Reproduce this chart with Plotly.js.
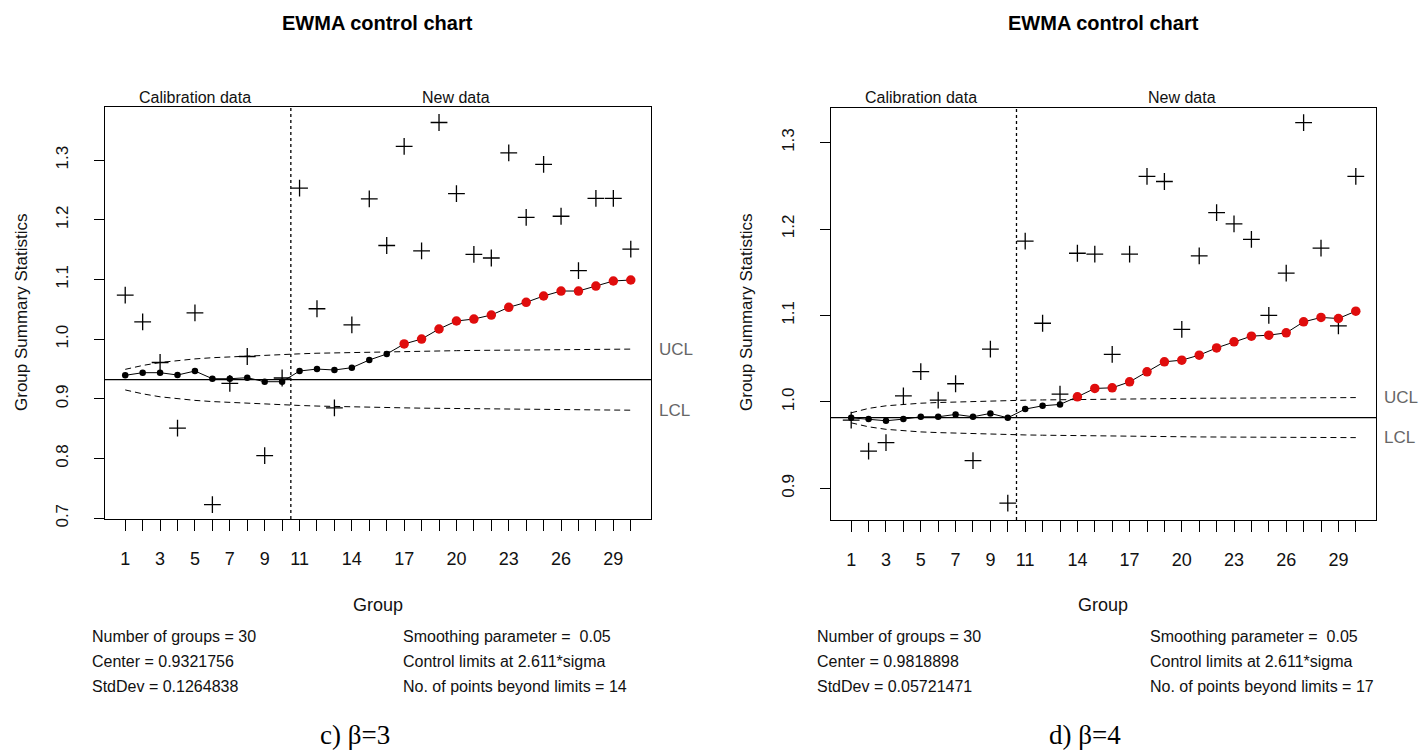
<!DOCTYPE html>
<html>
<head>
<meta charset="utf-8">
<script src="https://cdn.plot.ly/plotly-3.0.1.min.js"></script>
<style>html,body{margin:0;padding:0;background:#fff;}#chart{width:1420px;height:756px;}</style>
</head>
<body>
<div id="chart"></div>
<script>
// ---------- data ----------
const groups = Array.from({length: 30}, (_, i) => i + 1);
const labelGroups = [1, 3, 5, 7, 9, 11, 14, 17, 20, 23, 26, 29];
const calibrationEnd = 10.5;

// c) beta = 3
const stats3 = [1.074, 1.029, 0.961, 0.851, 1.044, 0.723, 0.926, 0.971, 0.805, 0.935,
                1.253, 1.051, 0.885, 1.024, 1.235, 1.157, 1.323, 1.148, 1.363, 1.244,
                1.142, 1.136, 1.312, 1.204, 1.293, 1.206, 1.115, 1.236, 1.236, 1.151];
const ewma3 = [0.9395, 0.9439, 0.9439, 0.9400, 0.9467, 0.9338, 0.9338, 0.9355, 0.9288, 0.9288,
               0.9467, 0.9500, 0.9484, 0.9523, 0.9652, 0.9752, 0.9920, 1.0003, 1.0171, 1.0305,
               1.0338, 1.0405, 1.0534, 1.0618, 1.0724, 1.0807, 1.0807, 1.0891, 1.0975, 1.0992];
const ucl3 = [0.9495, 0.9560, 0.9610, 0.9645, 0.9670, 0.9690, 0.9705, 0.9718, 0.9730, 0.9745,
              0.9755, 0.9765, 0.9772, 0.9778, 0.9784, 0.9790, 0.9795, 0.9800, 0.9804, 0.9808,
              0.9812, 0.9815, 0.9818, 0.9821, 0.9824, 0.9826, 0.9828, 0.9830, 0.9832, 0.9834];
const lcl3 = [0.9150, 0.9085, 0.9035, 0.9000, 0.8975, 0.8955, 0.8940, 0.8927, 0.8915, 0.8900,
              0.8890, 0.8880, 0.8872, 0.8866, 0.8860, 0.8855, 0.8850, 0.8845, 0.8841, 0.8837,
              0.8833, 0.8830, 0.8827, 0.8824, 0.8821, 0.8819, 0.8817, 0.8815, 0.8813, 0.8811];
const yTicks3 = [0.7, 0.8, 0.9, 1.0, 1.1, 1.2, 1.3];
const center3 = 0.9321756;
const info3 = ["Number of groups = 30", "Center = 0.9321756", "StdDev = 0.1264838"];
const infoR3 = ["Smoothing parameter =  0.05", "Control limits at 2.611*sigma", "No. of points beyond limits = 14"];
const caption3 = "c) β=3";

// d) beta = 4
const stats4 = [0.979, 0.943, 0.953, 1.007, 1.035, 1.002, 1.021, 0.932, 1.061, 0.883,
                1.186, 1.091, 1.009, 1.172, 1.171, 1.055, 1.171, 1.261, 1.255, 1.084,
                1.169, 1.219, 1.206, 1.188, 1.100, 1.149, 1.323, 1.178, 1.088, 1.261];
const ewma4 = [0.9816, 0.9801, 0.9782, 0.9801, 0.9828, 0.9828, 0.9855, 0.9828, 0.9867, 0.9816,
               0.9917, 0.9955, 0.9971, 1.0059, 1.0156, 1.0163, 1.0232, 1.0348, 1.0464, 1.0483,
               1.0541, 1.0625, 1.0695, 1.0761, 1.0772, 1.0799, 1.0926, 1.0977, 1.0965, 1.1050];
const ucl4 = [0.9874, 0.9925, 0.9955, 0.9972, 0.9985, 0.9993, 1.0000, 1.0005, 1.0010, 1.0015,
              1.0020, 1.0023, 1.0026, 1.0029, 1.0031, 1.0033, 1.0035, 1.0037, 1.0039, 1.0040,
              1.0042, 1.0043, 1.0044, 1.0045, 1.0046, 1.0047, 1.0048, 1.0049, 1.0050, 1.0050];
const lcl4 = [0.9758, 0.9712, 0.9683, 0.9666, 0.9653, 0.9645, 0.9638, 0.9632, 0.9627, 0.9622,
              0.9618, 0.9615, 0.9612, 0.9609, 0.9606, 0.9604, 0.9602, 0.9600, 0.9598, 0.9597,
              0.9595, 0.9594, 0.9593, 0.9592, 0.9591, 0.9590, 0.9589, 0.9589, 0.9588, 0.9587];
const yTicks4 = [0.9, 1.0, 1.1, 1.2, 1.3];
const center4 = 0.9818898;
const info4 = ["Number of groups = 30", "Center = 0.9818898", "StdDev = 0.05721471"];
const infoR4 = ["Smoothing parameter =  0.05", "Control limits at 2.611*sigma", "No. of points beyond limits = 17"];
const caption4 = "d) β=4";

const chartTitle = "EWMA control chart";
const xTitle = "Group";
const yTitle = "Group Summary Statistics";

// ---------- helpers ----------
const W = 1420, H = 756;
const px = x => x / W;
const py = y => 1 - y / H;
const FONT = "Liberation Sans, Arial, Helvetica, sans-serif";
const SERIF = "Liberation Serif, Times New Roman, serif";
const RED = "#e00d0d";

function panel(sfx, stats, ewma, ucl, lcl) {
  const xa = "x" + sfx, ya = "y" + sfx;
  const beyond = ewma.map((v, i) => v > ucl[i] || v < lcl[i]);
  return [
    {x: groups, y: ucl, xaxis: xa, yaxis: ya, mode: "lines", hoverinfo: "skip",
     line: {color: "#000", width: 1, dash: "6px,4px"}},
    {x: groups, y: lcl, xaxis: xa, yaxis: ya, mode: "lines", hoverinfo: "skip",
     line: {color: "#000", width: 1, dash: "6px,4px"}},
    {x: groups, y: stats, xaxis: xa, yaxis: ya, mode: "markers",
     marker: {symbol: "cross-thin-open", size: 12, color: "#000", line: {color: "#000", width: 1.3}}},
    {x: groups, y: ewma, xaxis: xa, yaxis: ya, mode: "lines+markers",
     line: {color: "#000", width: 1},
     marker: {symbol: "circle", color: beyond.map(b => b ? RED : "#000"), opacity: 1,
              size: beyond.map(b => b ? 9.5 : 6.5), line: {width: 0}}}
  ];
}

const data = [].concat(panel("", stats3, ewma3, ucl3, lcl3), panel("2", stats4, ewma4, ucl4, lcl4));

const xCommon = {
  range: [-0.16, 31.16], tickmode: "array", tickvals: groups,
  ticktext: groups.map(g => labelGroups.includes(g) ? String(g) : ""),
  ticks: "outside", ticklen: 11, tickwidth: 1, tickcolor: "#000",
  ticklabelstandoff: 12,
  showline: true, mirror: true, linecolor: "#000", linewidth: 1,
  showgrid: false, zeroline: false,
  tickfont: {family: FONT, size: 18, color: "#111"}
};
const yCommon = {
  tickmode: "array", tickangle: -90,
  ticks: "outside", ticklen: 10, tickwidth: 1, tickcolor: "#000",
  ticklabelstandoff: 19,
  showline: true, mirror: true, linecolor: "#000", linewidth: 1,
  showgrid: false, zeroline: false,
  tickfont: {family: FONT, size: 17, color: "#111"}
};

const layout = {
  width: W, height: H, margin: {l: 0, r: 0, t: 0, b: 0},
  paper_bgcolor: "#fff", plot_bgcolor: "#fff", showlegend: false,
  xaxis: Object.assign({}, xCommon, {domain: [px(105), px(651)], anchor: "y"}),
  yaxis: Object.assign({}, yCommon, {domain: [py(519), py(107)], anchor: "x",
    range: [0.6988, 1.389], tickvals: yTicks3, ticktext: yTicks3.map(v => v.toFixed(1))}),
  xaxis2: Object.assign({}, xCommon, {domain: [px(831), px(1376)], anchor: "y2"}),
  yaxis2: Object.assign({}, yCommon, {domain: [py(520), py(108)], anchor: "x2",
    range: [0.8634, 1.340], tickvals: yTicks4, ticktext: yTicks4.map(v => v.toFixed(1))}),
  shapes: [],
  annotations: []
};

function decorate(sfx, center, ucl, lcl, info, infoR, caption, cx, leftX, rightX, capX) {
  const xa = "x" + sfx, ya = "y" + sfx;
  layout.shapes.push(
    {type: "line", xref: xa + " domain", yref: ya, x0: 0, x1: 1, y0: center, y1: center,
     line: {color: "#000", width: 1.2}},
    {type: "line", xref: xa, yref: ya + " domain", x0: calibrationEnd, x1: calibrationEnd, y0: 0, y1: 1,
     line: {color: "#000", width: 1.3, dash: "dot"}}
  );
  const A = layout.annotations;
  const txt = (o) => A.push(Object.assign({showarrow: false, xanchor: "center", yanchor: "middle"}, o));
  txt({text: "<b>" + chartTitle + "</b>", xref: "paper", yref: "paper", x: px(cx), y: py(23),
       font: {family: FONT, size: 20, color: "#000"}});
  txt({text: "Calibration data", xref: xa, yref: "paper", x: 5, y: py(97),
       font: {family: FONT, size: 16, color: "#111"}});
  txt({text: "New data", xref: xa, yref: "paper", x: 20, y: py(97),
       font: {family: FONT, size: 16, color: "#111"}});
  txt({text: "UCL", xref: xa + " domain", yref: ya, x: 1, xshift: 6, xanchor: "left",
       y: ucl[ucl.length - 1], font: {family: FONT, size: 17, color: "#666"}});
  txt({text: "LCL", xref: xa + " domain", yref: ya, x: 1, xshift: 6, xanchor: "left",
       y: lcl[lcl.length - 1], font: {family: FONT, size: 17, color: "#666"}});
  txt({text: xTitle, xref: "paper", yref: "paper", x: px(cx), y: py(605),
       font: {family: FONT, size: 18, color: "#111"}});
  txt({text: yTitle, xref: "paper", yref: "paper", x: px(leftX - 68), y: py(313), textangle: -90,
       font: {family: FONT, size: 17, color: "#111"}});
  info.forEach((t, i) => txt({text: t, xref: "paper", yref: "paper", x: px(leftX), y: py(636 + 25 * i),
       xanchor: "left", font: {family: FONT, size: 16, color: "#111"}}));
  infoR.forEach((t, i) => txt({text: t, xref: "paper", yref: "paper", x: px(rightX), y: py(636 + 25 * i),
       xanchor: "left", font: {family: FONT, size: 16, color: "#111"}}));
  txt({text: caption, xref: "paper", yref: "paper", x: px(capX), y: py(735),
       font: {family: SERIF, size: 27, color: "#000"}});
}

decorate("", center3, ucl3, lcl3, info3, infoR3, caption3, 378, 90, 401, 355);
decorate("2", center4, ucl4, lcl4, info4, infoR4, caption4, 1103, 815, 1148, 1085);

Plotly.newPlot("chart", data, layout, {staticPlot: true});
</script>
</body>
</html>
